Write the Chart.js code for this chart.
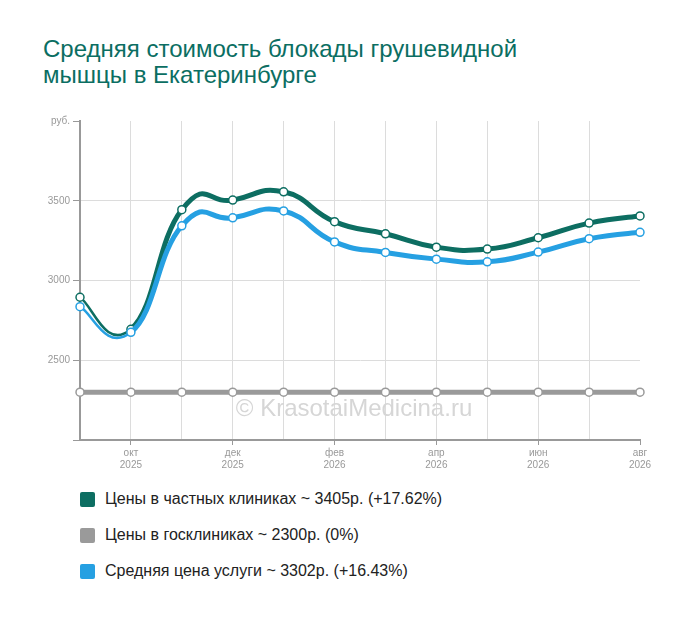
<!DOCTYPE html>
<html>
<head>
<meta charset="utf-8">
<script src="https://cdn.jsdelivr.net/npm/chart.js@4"></script>
<style>
  body { margin: 0; background: #fff; font-family: Arial, "Liberation Sans", sans-serif; }
  #wrap { position: relative; width: 700px; height: 617px; }
  #title { position: absolute; left: 43px; top: 36px; font-size: 24px; line-height: 26px; color: #0b6e62; }
  #chartBox { position: absolute; left: 0; top: 0; width: 700px; height: 480px; }
  #legend { position: absolute; left: 80px; top: 489px; }
  .item { display: flex; align-items: center; height: 20px; margin-bottom: 16px; font-size: 16px; color: #222; }
  .box { width: 15px; height: 15px; border-radius: 2px; margin-right: 10px; }
</style>
</head>
<body>
<div id="wrap">
  <div id="title">Средняя стоимость блокады грушевидной<br>мышцы в Екатеринбурге</div>
  <div id="chartBox"><canvas id="chart"></canvas></div>
  <div id="legend"></div>
</div>
<script>
// months Sep 2025 .. Aug 2026
const months = ['сен', 'окт', 'ноя', 'дек', 'янв', 'фев', 'мар', 'апр', 'май', 'июн', 'июл', 'авг'];
const years = ['2025', '2025', '2025', '2025', '2026', '2026', '2026', '2026', '2026', '2026', '2026', '2026'];

const privatePrices = [2895, 2694, 3444, 3504, 3556, 3369, 3293, 3209, 3197, 3268, 3360, 3405];
const publicPrices = [2300, 2300, 2300, 2300, 2300, 2300, 2300, 2300, 2300, 2300, 2300, 2300];
const avgPrices = [2836, 2675, 3343, 3393, 3436, 3242, 3176, 3134, 3117, 3178, 3262, 3302];

const seriesNames = [
  'Цены в частных клиниках ~ 3405р. (+17.62%)',
  'Цены в госклиниках ~ 2300р. (0%)',
  'Средняя цена услуги ~ 3302р. (+16.43%)'
];
const seriesColors = ['#0d6e62', '#9a9a9a', '#26a0e2'];

const yTicks = [2000, 2500, 3000, 3500, 4000];

// legend as html
const legendEl = document.getElementById('legend');
seriesNames.forEach(function(name, i) {
  const row = document.createElement('div');
  row.className = 'item';
  row.innerHTML = '<span class="box" style="background:' + seriesColors[i] + '"></span><span>' + name + '</span>';
  legendEl.appendChild(row);
});

const watermark = {
  id: 'watermark',
  beforeDatasetsDraw: function(chart) {
    const c = chart.ctx;
    c.save();
    c.font = '24px Arial, "Liberation Sans", sans-serif';
    c.fillStyle = '#d6d6d6';
    c.textAlign = 'center';
    c.textBaseline = 'middle';
    c.fillText('© KrasotaiMedicina.ru', 354, 409);
    c.restore();
  }
};

// cardinal spline with even control lengths (chart.js weights them by distance)
const evenSpline = {
  id: 'evenSpline',
  beforeDatasetDraw: function(chart, args) {
    const meta = args.meta;
    const pts = meta.data;
    meta.dataset.updateControlPoints(chart.chartArea, 'x');
    for (let i = 0; i < pts.length; i++) {
      const p = pts[i];
      const prev = pts[i - 1] || p;
      const next = pts[i + 1] || p;
      const k = 0.25;
      p.cp1x = p.x - (next.x - prev.x) * k;
      p.cp1y = p.y - (next.y - prev.y) * k;
      p.cp2x = p.x + (next.x - prev.x) * k;
      p.cp2y = p.y + (next.y - prev.y) * k;
    }
  }
};

function makeSet(label, data, color, order) {
  return {
    label: label,
    data: data,
    borderColor: color,
    backgroundColor: color,
    borderWidth: 5,
    tension: 0.5,
    pointRadius: 4,
    pointBorderWidth: 1.5,
    pointBackgroundColor: '#fff',
    pointBorderColor: color,
    order: order,
    segment: {
      borderWidth: function(ctx) { return ctx.p0DataIndex === 0 ? 2.5 : 5; }
    }
  };
}

new Chart(document.getElementById('chart'), {
  type: 'line',
  data: {
    labels: months,
    datasets: [
      makeSet(seriesNames[0], privatePrices, seriesColors[0], 1),
      Object.assign(makeSet(seriesNames[1], publicPrices, seriesColors[1], 2), { segment: {} }),
      makeSet(seriesNames[2], avgPrices, seriesColors[2], 0)
    ]
  },
  options: {
    responsive: true,
    maintainAspectRatio: false,
    animation: false,
    layout: { padding: { top: 121, right: 60, left: 0, bottom: 0 } },
    plugins: {
      legend: { display: false },
      tooltip: { enabled: false }
    },
    scales: {
      x: {
        afterFit: function(s) { s.height = 40; },
        grid: {
          color: function(ctx) {
            return (ctx.index === 0 || ctx.index === months.length - 1) ? 'rgba(0,0,0,0)' : '#dcdcdc';
          },
          tickColor: function(ctx) { return ctx.index % 2 === 1 ? '#999' : 'rgba(0,0,0,0)'; },
          tickLength: 5
        },
        border: { color: '#999', width: 2 },
        ticks: {
          autoSkip: false,
          maxRotation: 0,
          color: '#999',
          padding: 2,
          font: { size: 10, family: 'Arial, "Liberation Sans", sans-serif' },
          callback: function(v, i) { return i % 2 === 1 ? [months[i], years[i]] : ''; }
        }
      },
      y: {
        min: yTicks[0],
        max: yTicks[yTicks.length - 1],
        afterFit: function(s) { s.width = 80; },
        afterBuildTicks: function(s) { s.ticks = yTicks.map(function(v) { return { value: v }; }); },
        grid: {
          color: function(ctx) {
            const v = ctx.tick ? ctx.tick.value : 0;
            return (v === 2000 || v === 4000) ? 'rgba(0,0,0,0)' : '#dcdcdc';
          },
          tickColor: '#999',
          tickLength: 7
        },
        border: { color: '#999', width: 2 },
        ticks: {
          color: '#999',
          padding: 3,
          font: { size: 10, family: 'Arial, "Liberation Sans", sans-serif' },
          callback: function(v) {
            if (v === 4000) return 'руб.';
            if (v === 2000) return '';
            return v;
          }
        }
      }
    }
  },
  plugins: [watermark, evenSpline]
});
</script>
</body>
</html>
